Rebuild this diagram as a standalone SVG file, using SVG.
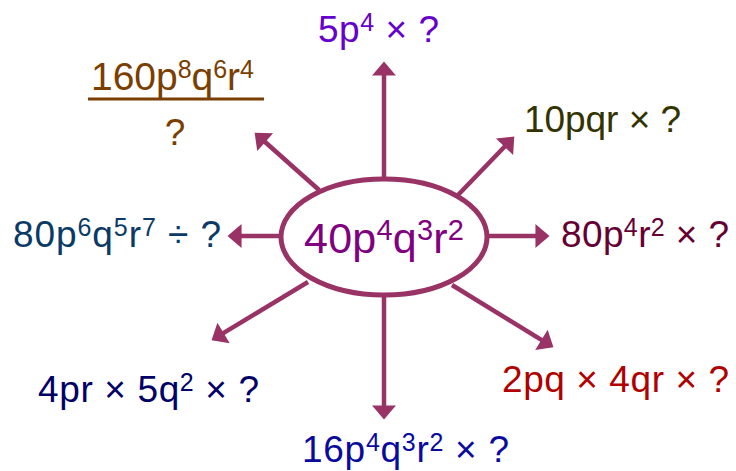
<svg xmlns="http://www.w3.org/2000/svg" width="736" height="471" viewBox="0 0 736 471">
<defs>
<style>
text{font-family:"Liberation Sans",Arial,sans-serif;font-size:37px}
.c{font-size:43px}
.f{font-size:39px}
.s{font-size:25px}
.cs{font-size:29px}
.conn line{stroke:#993366;stroke-width:4.5;fill:none}
</style>
<marker id="ah" markerUnits="userSpaceOnUse" markerWidth="16" markerHeight="26" viewBox="0 -12 14 24" refX="7" refY="0" orient="auto">
<path d="M0,-11 L13,0 L0,11 z" fill="#993366"/>
</marker>
</defs>
<rect width="736" height="471" fill="#fff"/>
<g id="connectors" class="conn">
<line x1="384" y1="179" x2="384" y2="68" marker-end="url(#ah)"/>
<line x1="384" y1="295" x2="384" y2="413" marker-end="url(#ah)"/>
<line x1="487" y1="236" x2="543" y2="236" marker-end="url(#ah)"/>
<line x1="281" y1="236" x2="234" y2="236" marker-end="url(#ah)"/>
<line x1="458" y1="195" x2="509.8" y2="141.3" marker-end="url(#ah)"/>
<line x1="319" y1="190" x2="259.5" y2="137" marker-end="url(#ah)"/>
<line x1="308" y1="282" x2="217.1" y2="336.9" marker-end="url(#ah)"/>
<line x1="452" y1="285" x2="547.9" y2="343.9" marker-end="url(#ah)"/>
</g>
<g id="center">
<ellipse cx="384" cy="237" rx="103" ry="58" fill="#fff" stroke="#993366" stroke-width="5"/>
<text class="c" x="304" y="253" textLength="160" lengthAdjust="spacing" fill="#800080">40p<tspan class="cs" dy="-13">4</tspan><tspan dy="13">q</tspan><tspan class="cs" dy="-13">3</tspan><tspan dy="13">r</tspan><tspan class="cs" dy="-13">2</tspan></text>
</g>
<g id="n-top">
<text x="318" y="42" textLength="121" lengthAdjust="spacing" fill="#6600cc">5p<tspan class="s" dy="-11">4</tspan><tspan dy="11"> × ?</tspan></text>
</g>
<g id="n-upper-right">
<text x="524" y="132" textLength="157" lengthAdjust="spacing" fill="#333300">10pqr × ?</text>
</g>
<g id="n-right">
<text x="561" y="247" textLength="168" lengthAdjust="spacing" fill="#660033">80p<tspan class="s" dy="-11">4</tspan><tspan dy="11">r</tspan><tspan class="s" dy="-11">2</tspan><tspan dy="11"> × ?</tspan></text>
</g>
<g id="n-lower-right">
<text x="502" y="392" textLength="227" lengthAdjust="spacing" fill="#b00000">2pq × 4qr × ?</text>
</g>
<g id="n-bottom">
<text x="302" y="462" textLength="207" lengthAdjust="spacing" fill="#0a0a9c">16p<tspan class="s" dy="-11">4</tspan><tspan dy="11">q</tspan><tspan class="s" dy="-11">3</tspan><tspan dy="11">r</tspan><tspan class="s" dy="-11">2</tspan><tspan dy="11"> × ?</tspan></text>
</g>
<g id="n-lower-left">
<text x="38" y="402" textLength="221" lengthAdjust="spacing" fill="#000066">4pr × 5q<tspan class="s" dy="-11">2</tspan><tspan dy="11"> × ?</tspan></text>
</g>
<g id="n-left">
<text x="13" y="247" textLength="208" lengthAdjust="spacing" fill="#0b3a66">80p<tspan class="s" dy="-11">6</tspan><tspan dy="11">q</tspan><tspan class="s" dy="-11">5</tspan><tspan dy="11">r</tspan><tspan class="s" dy="-11">7</tspan><tspan dy="11"> ÷ ?</tspan></text>
</g>
<g id="n-upper-left">
<text class="f" x="91" y="90" textLength="163" lengthAdjust="spacing" fill="#7a3e00">160p<tspan class="s" dy="-12">8</tspan><tspan dy="12">q</tspan><tspan class="s" dy="-12">6</tspan><tspan dy="12">r</tspan><tspan class="s" dy="-12">4</tspan></text>
<line x1="88" y1="99" x2="264" y2="99" stroke="#7a3e00" stroke-width="3"/>
<text x="175" y="145" fill="#7a3e00" text-anchor="middle">?</text>
</g>
</svg>
